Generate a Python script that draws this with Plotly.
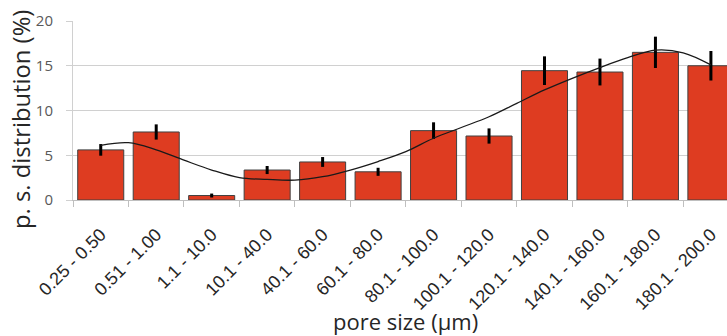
import plotly.graph_objects as go

# pore size classes (µm) and measured distribution (%)
categories = ["0.25 - 0.50", "0.51 - 1.00", "1.1 - 10.0", "10.1 - 40.0", "40.1 - 60.0",
              "60.1 - 80.0", "80.1 - 100.0", "100.1 - 120.0", "120.1 - 140.0",
              "140.1 - 160.0", "160.1 - 180.0", "180.1 - 200.0"]
distribution = [5.6, 7.6, 0.5, 3.35, 4.25, 3.15, 7.75, 7.15, 14.45, 14.3, 16.5, 15.0]
error = [0.65, 0.85, 0.22, 0.45, 0.55, 0.45, 0.93, 0.85, 1.6, 1.5, 1.75, 1.65]

# smooth trend through the distribution (sampled every half class)
trend_pos = [0, 0.5, 1, 1.5, 2, 2.5, 3, 3.5, 4, 4.5, 5, 5.5, 6, 6.5, 7, 7.5,
             8, 8.5, 9, 9.5, 10, 10.5, 11]
trend_val = [6.1, 6.4, 5.6, 4.45, 3.35, 2.5, 2.3, 2.22, 2.6, 3.35, 4.3, 5.4,
             6.9, 8.1, 9.3, 10.8, 12.3, 13.6, 14.8, 15.9, 16.75, 16.45, 15.1]

positions = list(range(len(categories)))

fig = go.Figure()
fig.add_trace(go.Bar(
    x=positions, y=distribution, width=0.83,
    marker=dict(color="#DE3C21", line=dict(color="#404040", width=1)),
    error_y=dict(type="data", array=error, visible=True, color="black",
                 thickness=3, width=0),
    showlegend=False,
))
fig.add_trace(go.Scatter(
    x=trend_pos, y=trend_val, mode="lines",
    line=dict(color="#1a1a1a", width=1.3, shape="spline", smoothing=1.0),
    showlegend=False, hoverinfo="skip",
))

fig.update_layout(
    width=727, height=336,
    margin=dict(l=73, r=0, t=21, b=136),
    paper_bgcolor="white", plot_bgcolor="white",
    bargap=0.17,
    xaxis=dict(
        range=[-0.5, 11.29], tickmode="array", tickvals=positions, ticktext=categories,
        tickangle=-45, ticks="", ticklabelstandoff=16,
        tickfont=dict(family="Liberation Sans, Arial", size=18, color="#262626"),
        showline=True, linecolor="#bfbfbf", linewidth=1, showgrid=False, zeroline=False,
        minor=dict(tickvals=[i - 0.5 for i in range(len(categories) + 1)],
                   ticks="outside", ticklen=6, tickcolor="#bfbfbf", showgrid=False),
    ),
    yaxis=dict(
        range=[0, 20], tickvals=[0, 5, 10, 15, 20],
        ticks="outside", ticklen=6, tickcolor="#d0d0d0", ticklabelstandoff=10,
        tickfont=dict(family="Open Sans", size=15, color="#595959"),
        showgrid=True, gridcolor="#d0d0d0", gridwidth=1,
        showline=True, linecolor="#d0d0d0", linewidth=1, zeroline=False,
    ),
    annotations=[
        dict(text="p. s. distribution (%)", x=21, y=120, xref="paper", yref="paper",
             showarrow=False, textangle=-90,
             font=dict(family="Open Sans", size=23.8, color="#262626")),
        dict(text="pore size (μm)", x=405, y=321, xref="paper", yref="paper",
             showarrow=False,
             font=dict(family="Open Sans", size=22, color="#262626")),
    ],
)

# place the axis titles in pixel coordinates of the page
for ann in fig.layout.annotations:
    px, py = ann.x, ann.y
    ann.x = (px - 73) / (727 - 73)
    ann.y = 1 - (py - 21) / (336 - 21 - 136)
    ann.xanchor = "center"
    ann.yanchor = "middle"

fig.write_html("out.html")
